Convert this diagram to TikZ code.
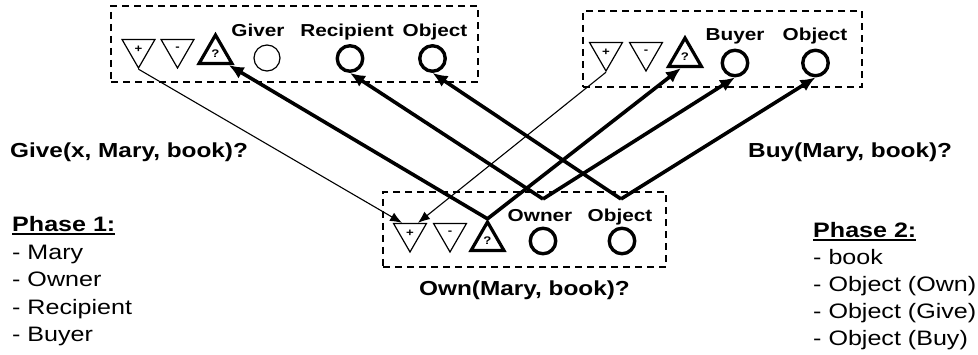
\documentclass[tikz,border=0pt]{standalone}
\usepackage{fontspec}
\setmainfont[FakeStretch=1.2]{Liberation Sans}
\usetikzlibrary{shapes.geometric,arrows.meta}

% thick underline for the phase headings
\newcommand\ulbar[1]{\setbox0\hbox{#1}\rlap{\rule[-3pt]{\wd0}{1.6pt}}\box0}

\begin{document}
\begin{tikzpicture}[x=1pt,y=-1pt,
  dashbox/.style={draw, dash pattern=on 7pt off 5pt, line width=1.2pt, inner sep=0pt},
  downtri/.style={regular polygon, regular polygon sides=3, shape border rotate=180,
    draw, line width=1.2pt, minimum size=38pt, inner sep=0pt,
    font=\fontsize{11}{11}\selectfont\bfseries},
  querytri/.style={regular polygon, regular polygon sides=3, draw, line width=3.2pt,
    minimum size=38pt, inner sep=0pt, font=\fontsize{11}{11}\selectfont\bfseries},
  role/.style={circle, draw, line width=3.4pt, minimum size=25.5pt, inner sep=0pt},
  plainrole/.style={circle, draw, line width=1.2pt, minimum size=26pt, inner sep=0pt},
  rolename/.style={anchor=base, inner sep=0pt, font=\fontsize{17.3}{20}\selectfont\bfseries},
  caption/.style={anchor=base west, inner sep=0pt, font=\fontsize{20.3}{24}\selectfont\bfseries},
  phase/.style={anchor=base west, inner sep=0pt, font=\fontsize{20.9}{27}\selectfont},
  bind/.style={line width=3.6pt, -{Latex[length=15pt,width=13pt]}},
  link/.style={line width=1.1pt, -{Latex[length=12pt,width=9.5pt]}},
]
\useasboundingbox (0,0) rectangle (978,355);

% Give(x, Mary, book)? frame
\node[dashbox, minimum width=367pt, minimum height=76pt] (giveBox) at (294.5,44) {};
\node[downtri] (gPlus) at (138.5,49) {+};
\node[downtri] (gMinus) at (177.5,49) {-};
\node[querytri] (gQ) at (215.5,54) {?};
\node[plainrole] (giver) at (267,58) {};
\node[role] (gRecip) at (350,58.5) {};
\node[role] (gObj) at (432.5,58.5) {};
\node[rolename] (giverLbl) at (258,37) {Giver};
\node[rolename] (gRecipLbl) at (347,37) {Recipient};
\node[rolename] (gObjLbl) at (435,37) {Object};

% Buy(Mary, book)? frame
\node[dashbox, minimum width=279pt, minimum height=76pt] (buyBox) at (722.5,49) {};
\node[downtri] (bPlus) at (606,52) {+};
\node[downtri] (bMinus) at (646,52) {-};
\node[querytri] (bQ) at (685,57) {?};
\node[role] (buyer) at (735,63) {};
\node[role] (bObj) at (815.5,63) {};
\node[rolename] (buyerLbl) at (735,41) {Buyer};
\node[rolename] (bObjLbl) at (815,41) {Object};

% Own(Mary, book)? frame
\node[dashbox, minimum width=283pt, minimum height=75pt] (ownBox) at (524.5,229.5) {};
\node[downtri] (oPlus) at (410,233) {+};
\node[downtri] (oMinus) at (450,233) {-};
\node[querytri] (oQ) at (487.5,241) {?};
\node[role] (owner) at (543,241) {};
\node[role] (oObj) at (622,241) {};
\node[rolename] (ownerLbl) at (540,221.5) {Owner};
\node[rolename] (oObjLbl) at (620,221.5) {Object};
\coordinate (ownerSrc) at (543,199);
\coordinate (objSrc) at (621,199);

% predicate captions
\node[caption] (giveCap) at (10,158) {Give(x, Mary, book)?};
\node[caption] (buyCap) at (748,158) {Buy(Mary, book)?};
\node[caption] (ownCap) at (419,296) {Own(Mary, book)?};

% phase lists
\node[phase] (p1) at (12,232) {\bfseries\ulbar{Phase 1:}};
\node[phase] (p1a) at (12,259.5) {- Mary};
\node[phase] (p1b) at (12,287) {- Owner};
\node[phase] (p1c) at (12,314.5) {- Recipient};
\node[phase] (p1d) at (12,342) {- Buyer};
\node[phase] (p2) at (813,238) {\bfseries\ulbar{Phase 2:}};
\node[phase] (p2a) at (813,265) {- book};
\node[phase] (p2b) at (813,292) {- Object (Own)};
\node[phase] (p2c) at (813,319) {- Object (Give)};
\node[phase] (p2d) at (813,346) {- Object (Buy)};

% truth links
\draw[link] (gPlus.270) -- (oPlus.128);
\draw[link] (bPlus.270) -- (oPlus.52);

% role bindings
\draw[bind] (oQ.90) -- (gQ.-40);
\draw[bind] (oQ.90) -- (bQ.-110);
\draw[bind] (ownerSrc) -- (gRecip.south);
\draw[bind] (ownerSrc) -- (buyer.south);
\draw[bind] (objSrc) -- (gObj.south);
\draw[bind] (objSrc) -- (bObj.south);
\end{tikzpicture}
\end{document}
